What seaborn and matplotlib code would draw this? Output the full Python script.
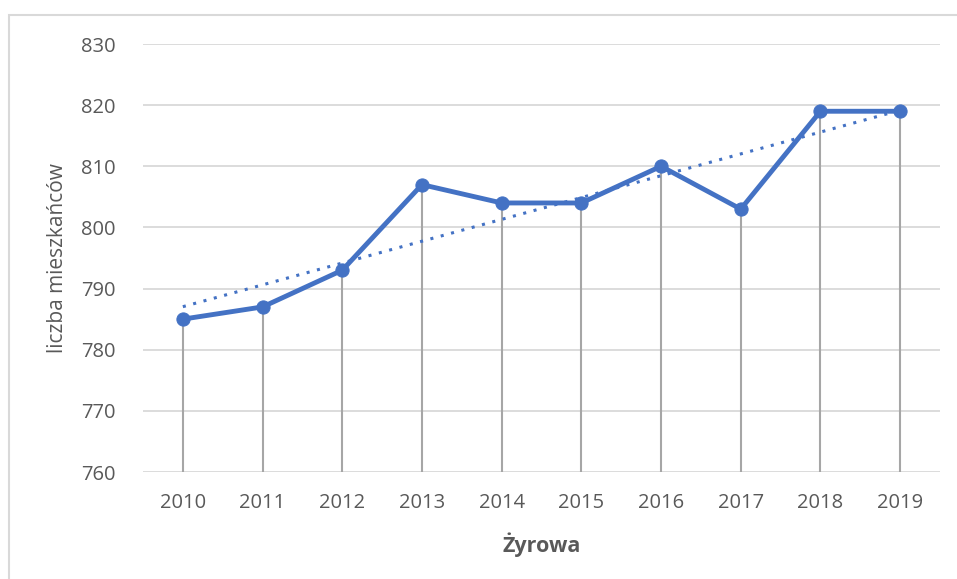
import matplotlib
matplotlib.use("Agg")
import matplotlib.pyplot as plt
import pandas as pd
import numpy as np
import seaborn as sns
from matplotlib.patches import Rectangle

# data
years = ["2010", "2011", "2012", "2013", "2014", "2015", "2016", "2017", "2018", "2019"]
residents = [785, 787, 793, 807, 804, 804, 810, 803, 819, 819]
y_ticks = [760, 770, 780, 790, 800, 810, 820, 830]

df = pd.DataFrame({"idx": np.arange(len(years)), "year": years, "residents": residents})

sns.set_theme(style="white")
plt.rcParams["font.family"] = ["Open Sans", "DejaVu Sans"]

grey_txt = "#595959"
blue = "#4472C4"

fig = plt.figure(figsize=(9.57, 5.79), dpi=100)
ax = fig.add_axes([143 / 957, 1 - 472 / 579, (940 - 143) / 957, (472 - 44) / 579])

# outer chart border (Excel style)
fig.patches.append(Rectangle((9 / 957, -0.1), 1.2, 1 - 15 / 579 + 0.1,
                             transform=fig.transFigure, fill=False,
                             edgecolor="#d9d9d9", linewidth=1.5, zorder=0))

# gridlines
for t in y_ticks:
    ax.axhline(t, color="#d9d9d9", linewidth=1.3, zorder=1)

# drop lines
ax.vlines(df["idx"], y_ticks[0], df["residents"], color="#a6a6a6", linewidth=1.5, zorder=2)

# linear trendline
sns.regplot(data=df, x="idx", y="residents", scatter=False, ci=None, truncate=True,
            line_kws={"color": blue, "linestyle": (0, (1, 2.5)), "linewidth": 2.2, "zorder": 3},
            ax=ax)

# main series
sns.lineplot(data=df, x="idx", y="residents", color=blue, linewidth=3.5,
             marker="o", markersize=9.5, markeredgecolor=blue, ax=ax, zorder=4)

ax.set_xlim(-0.5, len(years) - 0.5)
ax.set_ylim(y_ticks[0], y_ticks[-1])
ax.set_xticks(df["idx"])
ax.set_xticklabels(years)
ax.set_yticks(y_ticks)
ax.tick_params(axis="both", length=0, labelsize=14.5, labelcolor=grey_txt)
ax.tick_params(axis="y", pad=20)
ax.tick_params(axis="x", pad=15)
for s in ax.spines.values():
    s.set_visible(False)

ax.set_xlabel("Żyrowa", fontsize=15.5, fontweight="bold", color=grey_txt, labelpad=14)
ax.set_ylabel("liczba mieszkańców", fontsize=15, color=grey_txt, labelpad=9)

fig.savefig("out.png", dpi=100)
